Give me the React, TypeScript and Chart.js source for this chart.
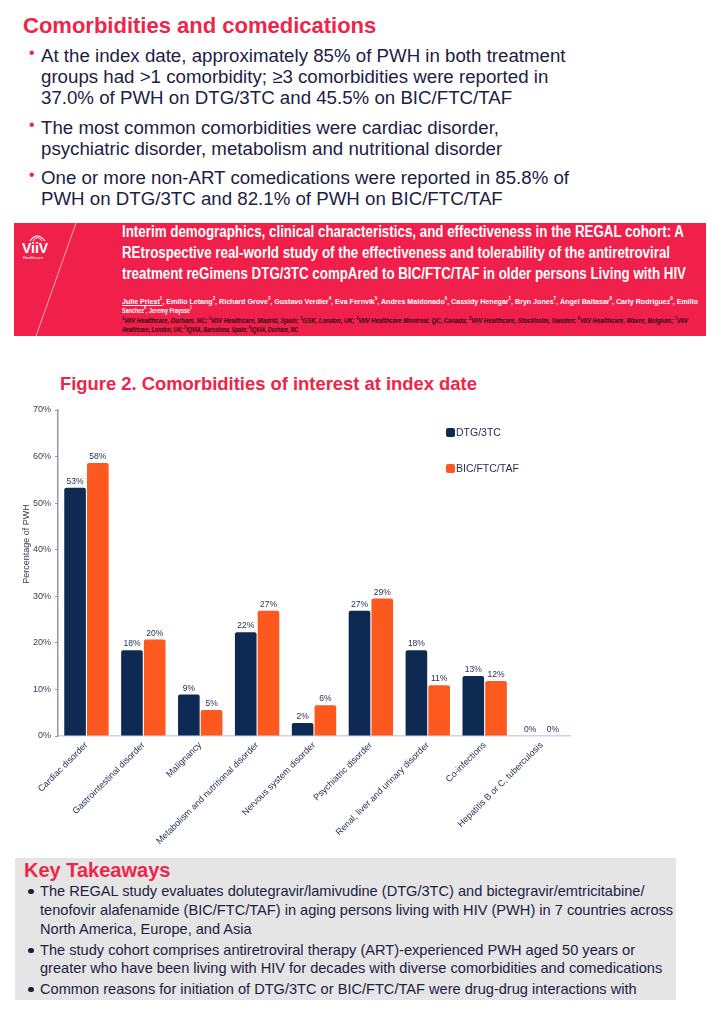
import React, { useEffect, useLayoutEffect, useRef } from "react";
import { Chart, registerables } from "chart.js";

Chart.register(...registerables);

// ---------- data ----------
const categories = [
  "Cardiac disorder",
  "Gastrointestinal disorder",
  "Malignancy",
  "Metabolism and nutritional disorder",
  "Nervous system disorder",
  "Psychiatric disorder",
  "Renal, liver and urinary disorder",
  "Co-infections",
  "Hepatitis B or C, tuberculosis",
];
const seriesNames = ["DTG/3TC", "BIC/FTC/TAF"];
const dtgValues = [53.3, 18.4, 8.9, 22.3, 2.8, 26.9, 18.4, 12.9, 0];
const bicValues = [58.6, 20.7, 5.6, 26.9, 6.6, 29.5, 10.9, 11.8, 0];
const dtgLabels = ["53%", "18%", "9%", "22%", "2%", "27%", "18%", "13%", "0%"];
const bicLabels = ["58%", "20%", "5%", "27%", "6%", "29%", "11%", "12%", "0%"];
const yMin = 0;
const yMax = 70;
const yStep = 10;
const yTitle = "Percentage of PWH";

const NAVY = "#0f2a52";
const ORANGE = "#fd581d";
const RED = "#ee2548";
const TEXT = "#1c2142";
const FONT = '"Liberation Sans", Arial, Helvetica, sans-serif';

// ---------- helpers ----------
function Fit({ width, style, children }: { width: number; style?: React.CSSProperties; children: React.ReactNode }) {
  const ref = useRef<HTMLSpanElement>(null);
  useLayoutEffect(() => {
    const el = ref.current;
    if (!el) return;
    el.style.transform = "none";
    const w = el.getBoundingClientRect().width;
    if (w > 0) el.style.transform = `scaleX(${width / w})`;
  }, [width]);
  return (
    <span
      ref={ref}
      style={{ display: "inline-block", whiteSpace: "nowrap", transformOrigin: "0 50%", ...style }}
    >
      {children}
    </span>
  );
}

function Line({
  x, cy, size, lh, color, bold, italic, children, fit,
}: {
  x: number; cy: number; size: number; lh?: number; color: string; bold?: boolean; italic?: boolean;
  children: React.ReactNode; fit?: number;
}) {
  const h = lh ?? Math.round(size * 1.2);
  const st: React.CSSProperties = {
    position: "absolute",
    left: x,
    top: cy - h / 2,
    height: h,
    lineHeight: h + "px",
    fontSize: size,
    fontFamily: FONT,
    fontWeight: bold ? 700 : 400,
    fontStyle: italic ? "italic" : "normal",
    color,
    whiteSpace: "nowrap",
  };
  return <div style={st}>{fit ? <Fit width={fit}>{children}</Fit> : children}</div>;
}

// ---------- chart ----------
function BarChart() {
  const ref = useRef<HTMLCanvasElement>(null);
  useEffect(() => {
    const canvas = ref.current;
    if (!canvas) return;
    const valueTexts = [dtgLabels, bicLabels];
    const colors = [NAVY, ORANGE];

    const valueLabels = {
      id: "valueLabels",
      afterDatasetsDraw(chart: any) {
        const ctx = chart.ctx;
        ctx.save();
        ctx.font = `8.5px ${FONT}`;
        ctx.fillStyle = "#283252";
        ctx.textAlign = "center";
        ctx.textBaseline = "bottom";
        chart.data.datasets.forEach((_: any, i: number) => {
          const meta = chart.getDatasetMeta(i);
          meta.data.forEach((el: any, j: number) => {
            ctx.fillText(valueTexts[i][j], el.x, el.y - 2);
          });
        });
        ctx.restore();
      },
    };

    const customLegend = {
      id: "customLegend",
      afterDraw(chart: any) {
        const ctx = chart.ctx;
        const ca = chart.chartArea;
        ctx.save();
        seriesNames.forEach((name, i) => {
          const x = ca.left + 388;
          const cy = ca.top + 22.5 + i * 36;
          ctx.fillStyle = colors[i];
          ctx.beginPath();
          (ctx as any).roundRect(x, cy - 4.5, 9, 9, 2);
          ctx.fill();
          ctx.fillStyle = "#1f2a4c";
          ctx.font = `10.5px ${FONT}`;
          ctx.textAlign = "left";
          ctx.textBaseline = "middle";
          ctx.fillText(name, x + 10, cy + 0.5);
        });
        ctx.restore();
      },
    };

    const yAxisTitle = {
      id: "yAxisTitle",
      afterDraw(chart: any) {
        const ctx = chart.ctx;
        const ca = chart.chartArea;
        ctx.save();
        ctx.translate(27, ca.top + 134);
        ctx.rotate(-Math.PI / 2);
        ctx.font = `9px ${FONT}`;
        ctx.fillStyle = "#343b52";
        ctx.textAlign = "center";
        ctx.textBaseline = "middle";
        ctx.fillText(yTitle, 0, 0);
        ctx.restore();
      },
    };

    const chart = new Chart(canvas, {
      type: "bar",
      data: {
        labels: categories,
        datasets: [
          {
            label: seriesNames[0],
            data: dtgValues,
            backgroundColor: NAVY,
            borderRadius: 2,
            borderSkipped: "bottom",
            categoryPercentage: 0.8,
            barPercentage: 0.95,
          },
          {
            label: seriesNames[1],
            data: bicValues,
            backgroundColor: ORANGE,
            borderRadius: 2,
            borderSkipped: "bottom",
            categoryPercentage: 0.8,
            barPercentage: 0.95,
          },
        ],
      },
      options: {
        responsive: false,
        animation: false,
        layout: { padding: { top: 15, right: 146, left: 0, bottom: 0 } },
        plugins: {
          legend: { display: false },
          title: { display: false },
          tooltip: { enabled: false },
        },
        scales: {
          x: {
            grid: { display: false, drawTicks: false },
            border: { display: true, color: "#c4d9ef", width: 1.5 },
            ticks: {
              autoSkip: false,
              maxRotation: 45,
              minRotation: 45,
              font: { family: FONT, size: 9 },
              color: "#1f2b4d",
              padding: 4,
            },
            afterFit: (s: any) => {
              s.height = 121;
            },
          },
          y: {
            min: yMin,
            max: yMax,
            grid: { display: true, drawOnChartArea: false, drawTicks: true, tickLength: 3, color: "#8d9bb0" },
            border: { display: true, color: "#8d9bb0", width: 1.5 },
            ticks: {
              stepSize: yStep,
              callback: (v: any) => v + "%",
              font: { family: FONT, size: 9 },
              color: "#3a4156",
              padding: 4,
            },
            afterFit: (s: any) => {
              s.width = 58;
            },
          },
        },
      },
      plugins: [valueLabels, customLegend, yAxisTitle],
    });
    return () => chart.destroy();
  }, []);
  return <canvas ref={ref} width={716} height={462} style={{ display: "block", width: 716, height: 462 }} />;
}

// ---------- page ----------
export default function App() {
  const topLines: [number, string, boolean][] = [
    [55, "At the index date, approximately 85% of PWH in both treatment", true],
    [76, "groups had >1 comorbidity; \u22653 comorbidities were reported in", false],
    [97, "37.0% of PWH on DTG/3TC and 45.5% on BIC/FTC/TAF", false],
    [127, "The most common comorbidities were cardiac disorder,", true],
    [148, "psychiatric disorder, metabolism and nutritional disorder", false],
    [177, "One or more non-ART comedications were reported in 85.8% of", true],
    [198, "PWH on DTG/3TC and 82.1% of PWH on BIC/FTC/TAF", false],
  ];
  const keyLines: [number, string, boolean][] = [
    [891, "The REGAL study evaluates dolutegravir/lamivudine (DTG/3TC) and bictegravir/emtricitabine/", true],
    [910, "tenofovir alafenamide (BIC/FTC/TAF) in aging persons living with HIV (PWH) in 7 countries across", false],
    [929, "North America, Europe, and Asia", false],
    [950, "The study cohort comprises antiretroviral therapy (ART)-experienced PWH aged 50 years or", true],
    [968, "greater who have been living with HIV for decades with diverse comorbidities and comedications", false],
    [989, "Common reasons for initiation of DTG/3TC or BIC/FTC/TAF were drug-drug interactions with", true],
  ];
  const sup = (n: string, s = 5) => <sup style={{ fontSize: s }}>{n}</sup>;
  return (
    <div
      style={{
        position: "absolute",
        left: 0,
        top: 0,
        width: 716,
        height: 1014,
        overflow: "hidden",
        background: "#ffffff",
        fontFamily: FONT,
      }}
    >
      {/* Top section */}
      <Line x={23} cy={26} size={22} lh={26} color={RED} bold>
        Comorbidities and comedications
      </Line>
      {topLines.map(([cy, t, b], i) => (
        <React.Fragment key={i}>
          {b && (
            <Line x={29} cy={cy - 3} size={16} color={RED}>
              {"\u2022"}
            </Line>
          )}
          <Line x={41} cy={cy} size={18.7} lh={21} color={TEXT}>
            {t}
          </Line>
        </React.Fragment>
      ))}

      {/* Banner */}
      <div style={{ position: "absolute", left: 14, top: 223, width: 692, height: 113, background: "#f0204a" }}>
        <svg width={692} height={113} style={{ position: "absolute", left: 0, top: 0 }}>
          <line x1={62} y1={0} x2={22} y2={113} stroke="rgba(255,255,255,0.75)" strokeWidth={0.8} />
          <path d="M 16 18 Q 23 8 31 18" stroke="#fff" strokeWidth={1.2} fill="none" />
          <path d="M 19 18 Q 23 11 28 18" stroke="#fff" strokeWidth={1} fill="none" />
          <text x={8} y={30} fill="#fff" fontFamily={FONT} fontWeight={700} fontSize={14}>
            ViiV
          </text>
          <text x={9} y={36} fill="#fff" fontFamily={FONT} fontSize={4.2}>
            Healthcare
          </text>
        </svg>
      </div>
      <Line x={122} cy={232} size={16} lh={20} color="#ffffff" bold fit={562}>
        Interim demographics, clinical characteristics, and effectiveness in the REGAL cohort: A
      </Line>
      <Line x={122} cy={253} size={16} lh={20} color="#ffffff" bold fit={548}>
        REtrospective real-world study of the effectiveness and tolerability of the antiretroviral
      </Line>
      <Line x={122} cy={274} size={16} lh={20} color="#ffffff" bold fit={564}>
        treatment reGimens DTG/3TC compAred to BIC/FTC/TAF in older persons Living with HIV
      </Line>
      <Line x={122} cy={298} size={8} lh={10} color="#ffffff" bold fit={576}>
        <span style={{ textDecoration: "underline" }}>
          Julie Priest{sup("1")}
        </span>
        , Emilio Letang{sup("2")}, Richard Grove{sup("3")}, Gustavo Verdier{sup("4")}, Eva Fernvik{sup("5")}, Andres
        Maldonado{sup("6")}, Cassidy Henegar{sup("1")}, Bryn Jones{sup("7")}, Ángel Baltasar{sup("8")}, Carly
        Rodriguez{sup("9")}, Emilio
      </Line>
      <Line x={122} cy={307} size={8} lh={10} color="#ffffff" bold fit={70}>
        Sanchez{sup("8")}, Jeremy Fraysse{sup("1")}
      </Line>
      <Line x={122} cy={318} size={7} lh={9} color="#2a0c16" bold italic fit={566}>
        {sup("1", 4.5)}ViiV Healthcare, Durham, NC; {sup("2", 4.5)}ViiV Healthcare, Madrid, Spain; {sup("3", 4.5)}GSK,
        London, UK; {sup("4", 4.5)}ViiV Healthcare Montreal, QC, Canada; {sup("5", 4.5)}ViiV Healthcare, Stockholm,
        Sweden; {sup("6", 4.5)}ViiV Healthcare, Wavre, Belgium; {sup("7", 4.5)}ViiV
      </Line>
      <Line x={122} cy={327} size={7} lh={9} color="#2a0c16" bold italic fit={176}>
        Healthcare, London, UK; {sup("8", 4.5)}IQVIA, Barcelona, Spain; {sup("9", 4.5)}IQVIA, Durham, NC
      </Line>

      {/* Figure title */}
      <Line x={60} cy={384} size={18.4} lh={22} color={RED} bold>
        Figure 2. Comorbidities of interest at index date
      </Line>

      {/* Chart */}
      <div style={{ position: "absolute", left: 0, top: 395, width: 716, height: 462 }}>
        <BarChart />
      </div>

      {/* Key takeaways */}
      <div style={{ position: "absolute", left: 15, top: 858, width: 661, height: 142, background: "#e5e5e5" }} />
      <Line x={24} cy={870} size={20} lh={24} color={RED} bold>
        Key Takeaways
      </Line>
      {keyLines.map(([cy, t, b], i) => (
        <React.Fragment key={i}>
          {b && (
            <div
              style={{
                position: "absolute",
                left: 28,
                top: cy - 2.5,
                width: 5.5,
                height: 5.5,
                borderRadius: "50%",
                background: TEXT,
              }}
            />
          )}
          <Line x={40} cy={cy} size={14.6} lh={18} color={TEXT}>
            {t}
          </Line>
        </React.Fragment>
      ))}
    </div>
  );
}
